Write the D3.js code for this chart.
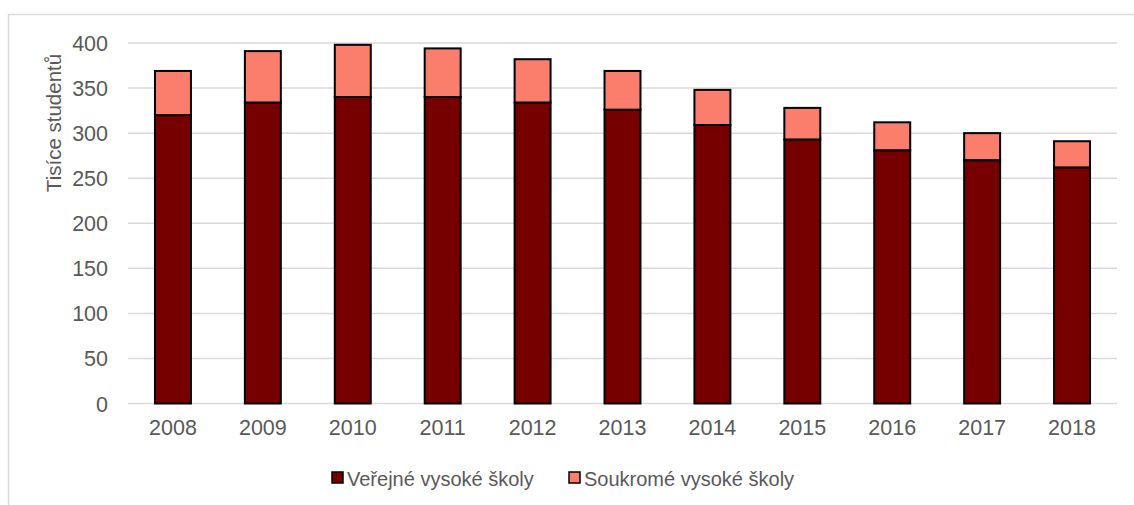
<!DOCTYPE html>
<html><head><meta charset="utf-8">
<script src="https://cdn.jsdelivr.net/npm/d3@7"></script>
<style>body{margin:0;background:#fff;}text{font-family:"Liberation Sans",Arial,sans-serif;fill:#595959;}</style>
</head><body><svg id="c" width="1134" height="505"></svg>
<script>
const years = ["2008","2009","2010","2011","2012","2013","2014","2015","2016","2017","2018"];
const verejne = [320, 334, 340, 340, 334, 326, 309, 293, 281, 270, 262];
const soukrome = [49, 57, 58, 54, 48, 43, 39, 35, 31, 30, 29];
const yTicks = [0,50,100,150,200,250,300,350,400];
const seriesNames = ["Veřejné vysoké školy","Soukromé vysoké školy"];
const colors = ["#760000","#fa7e6b"];

const svg = d3.select("#c");
const L=128, R=1117, T=43, B=403.5;
// outer border
svg.append("path").attr("d","M8.5,505 V14.5 H1134").attr("fill","none").attr("stroke","#d9d9d9").attr("stroke-width",1.5);

const x = d3.scaleBand().domain(years).range([L,R]).paddingInner(0.6).paddingOuter(0.3);
const y = d3.scaleLinear().domain([0,400]).range([B,T]);

const grid = svg.append("g");
yTicks.forEach(t=>{
  grid.append("line").attr("x1",L).attr("x2",R).attr("y1",y(t)).attr("y2",y(t)).attr("stroke","#d9d9d9").attr("stroke-width",1.5);
});

const yAxis = d3.axisLeft(y).tickValues(yTicks).tickSize(0).tickPadding(20);
svg.append("g").attr("transform",`translate(${L},0)`).call(yAxis)
  .call(g=>g.select(".domain").remove())
  .selectAll("text").style("font-size","21.5px").attr("fill","#595959").attr("dy","0.35em");

const xAxis = d3.axisBottom(x).tickSize(0).tickPadding(16);
svg.append("g").attr("transform",`translate(0,${B})`).call(xAxis)
  .call(g=>g.select(".domain").remove())
  .selectAll("text").style("font-size","21.5px").attr("fill","#595959");

const data = years.map((yr,i)=>({year:yr, v:verejne[i], s:soukrome[i]}));
const stack = d3.stack().keys(["v","s"])(data);
stack.forEach((layer,li)=>{
  svg.append("g").selectAll("rect").data(layer).join("rect")
    .attr("x",d=>x(d.data.year)).attr("width",x.bandwidth())
    .attr("y",d=>y(d[1])).attr("height",d=>y(d[0])-y(d[1]))
    .attr("fill",colors[li]).attr("stroke","#000").attr("stroke-width",2);
});

svg.append("text").attr("transform","translate(61,123) rotate(-90)")
  .attr("text-anchor","middle").style("font-size","20.5px").text("Tisíce studentů");

const legX = [332, 569];
seriesNames.forEach((n,i)=>{
  svg.append("rect").attr("x",legX[i]).attr("y",472).attr("width",11).attr("height",11)
    .attr("fill",colors[i]).attr("stroke","#000").attr("stroke-width",1.5);
  svg.append("text").attr("x",legX[i]+15).attr("y",485.5).style("font-size","20px").text(n);
});
</script></body></html>
